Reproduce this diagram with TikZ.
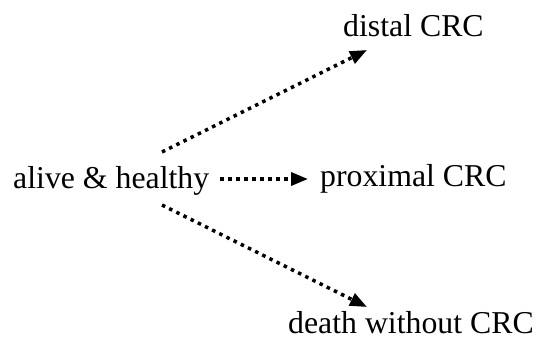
\documentclass[tikz,border=0pt]{standalone}
\usepackage{fontspec}
\setmainfont{Liberation Serif}
\usetikzlibrary{arrows.meta}
\begin{document}
\begin{tikzpicture}[x=1pt,y=1pt,
  lbl/.style={anchor=base west,inner sep=0pt,font=\fontsize{31.8}{38}\selectfont},
  dotarrow/.style={line width=3.5pt,dash pattern=on 3.5pt off 4.5pt,
    -{Triangle[length=17pt,width=13pt]}}]
\useasboundingbox (0,0) rectangle (537,341);
\node[lbl] (alive) at (13,153) {alive \& healthy};
\node[lbl] (prox) at (320,155) {proximal CRC};
\node[lbl] (dist) at (343,305) {distal CRC};
\node[lbl] (death) at (288,8) {death without CRC};
\coordinate (s1) at (162,189);
\coordinate (t1) at (367,291);
\coordinate (s2) at (220,162);
\coordinate (t2) at (308,162);
\coordinate (s3) at (162,136);
\coordinate (t3) at (367,34);
\draw[dotarrow] (s1) -- (t1);
\draw[dotarrow] (s2) -- (t2);
\draw[dotarrow] (s3) -- (t3);
\end{tikzpicture}
\end{document}
